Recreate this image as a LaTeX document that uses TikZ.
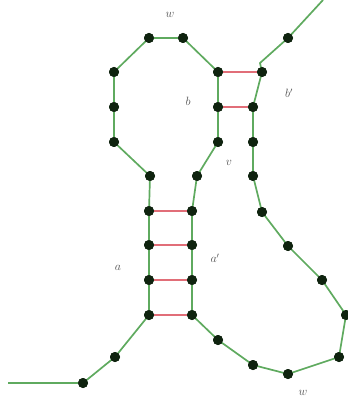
\documentclass[tikz,border=0pt]{standalone}
\begin{document}
\begin{tikzpicture}[x=1pt,y=-1pt,
  backbone/.style={draw=strandgreen,line width=1.7pt},
  pairline/.style={draw=pairred,line width=1.4pt},
  base/.style={circle,fill=dotcolor,inner sep=0pt,minimum size=10pt},
  lbl/.style={text=labelgray,font=\large}]
\definecolor{strandgreen}{RGB}{95,170,95}
\definecolor{pairred}{RGB}{225,110,120}
\definecolor{dotcolor}{RGB}{15,35,15}
\definecolor{labelgray}{RGB}{80,80,80}
\useasboundingbox (0,0) rectangle (347,403);
\coordinate (s0) at (8,383);
\coordinate (k1) at (260,63);
\coordinate (e1) at (323,0);
\node[base] (t1) at (83,383) {};
\node[base] (t2) at (115,357) {};
\node[base] (a1) at (149,315) {};
\node[base] (a2) at (149,280) {};
\node[base] (a3) at (149,245) {};
\node[base] (a4) at (149,211) {};
\node[base] (l1) at (150,176) {};
\node[base] (l2) at (114,142) {};
\node[base] (l3) at (114,107) {};
\node[base] (l4) at (114,72) {};
\node[base] (l5) at (149,38) {};
\node[base] (l6) at (183,38) {};
\node[base] (b1) at (218,72) {};
\node[base] (b2) at (218,107) {};
\node[base] (l7) at (218,142) {};
\node[base] (l8) at (197,176) {};
\node[base] (c4) at (192,211) {};
\node[base] (c3) at (192,245) {};
\node[base] (c2) at (192,280) {};
\node[base] (c1) at (192,315) {};
\node[base] (r1) at (218,340) {};
\node[base] (r2) at (253,365) {};
\node[base] (r3) at (288,374) {};
\node[base] (r4) at (339,357) {};
\node[base] (r5) at (346,315) {};
\node[base] (r6) at (322,280) {};
\node[base] (r7) at (288,246) {};
\node[base] (r8) at (262,212) {};
\node[base] (m1) at (253,176) {};
\node[base] (m2) at (253,142) {};
\node[base] (d2) at (253,107) {};
\node[base] (d1) at (262,72) {};
\node[base] (u1) at (288,38) {};
% backbone
\path[backbone] (s0) -- (t1.center) -- (t2.center) -- (a1.center) -- (a2.center) -- (a3.center) -- (a4.center) -- (l1.center) -- (l2.center) -- (l3.center) -- (l4.center) -- (l5.center) -- (l6.center) -- (b1.center) -- (b2.center) -- (l7.center) -- (l8.center) -- (c4.center) -- (c3.center) -- (c2.center) -- (c1.center) -- (r1.center) -- (r2.center) -- (r3.center) -- (r4.center) -- (r5.center) -- (r6.center) -- (r7.center) -- (r8.center) -- (m1.center) -- (m2.center) -- (d2.center) -- (d1.center) -- (k1) -- (u1.center) -- (e1);
% pairs
\path[pairline] (a1) -- (c1);
\path[pairline] (a2) -- (c2);
\path[pairline] (a3) -- (c3);
\path[pairline] (a4) -- (c4);
\path[pairline] (b1) -- (d1);
\path[pairline] (b2) -- (d2);
% dots on top of the strand
\foreach \n in {t1,t2,a1,a2,a3,a4,l1,l2,l3,l4,l5,l6,b1,b2,l7,l8,c4,c3,c2,c1,r1,r2,r3,r4,r5,r6,r7,r8,m1,m2,d2,d1,u1}
  \fill[dotcolor] (\n) circle (5pt);
% labels
\node[lbl] (lw) at (170,15) {$w$};
\node[lbl] (lb) at (188,101) {$b$};
\node[lbl] (lbp) at (289,93) {$b'$};
\node[lbl] (lv) at (229,163) {$v$};
\node[lbl] (la) at (118,268) {$a$};
\node[lbl] (lap) at (215,258) {$a'$};
\node[lbl] (lw2) at (303,393) {$w$};
\end{tikzpicture}
\end{document}
